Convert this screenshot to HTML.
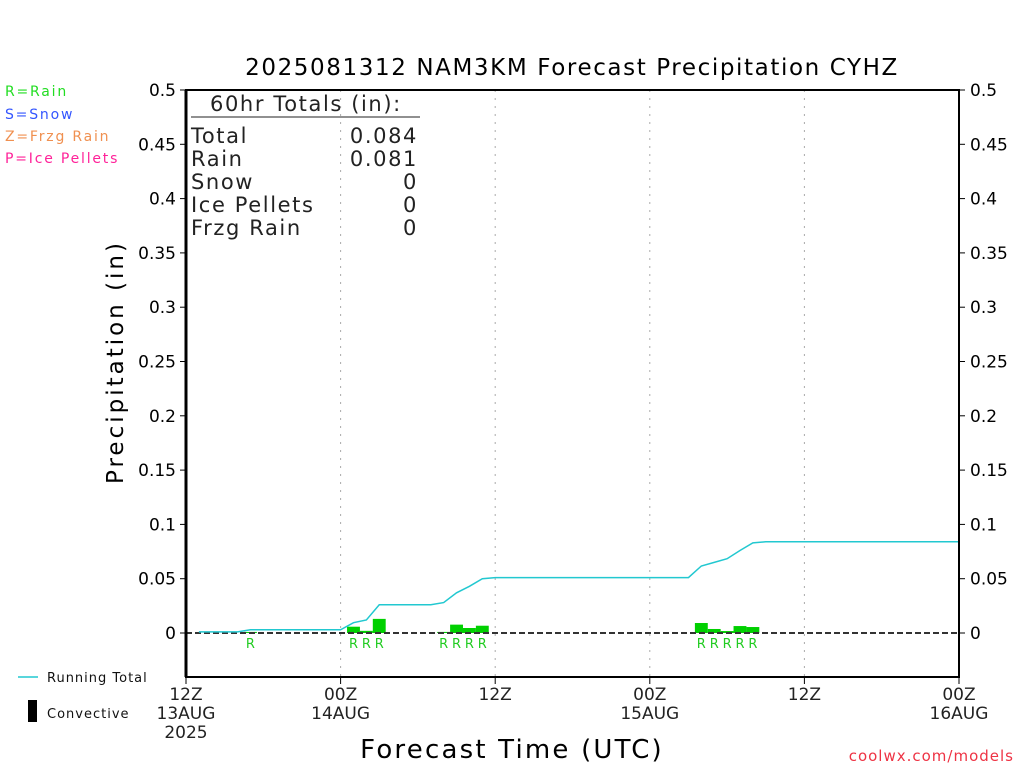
<!DOCTYPE html>
<html><head><meta charset="utf-8"><style>
body{margin:0;background:#fff}
svg text{font-family:"DejaVu Sans","Liberation Sans",sans-serif}
</style></head><body>
<svg id="c" width="1024" height="768" xmlns="http://www.w3.org/2000/svg">
<rect width="1024" height="768" fill="#fff"/>
<text x="572" y="75" font-size="23" letter-spacing="1.6" text-anchor="middle" fill="#000">2025081312 NAM3KM Forecast Precipitation CYHZ</text>
<g font-size="14" letter-spacing="1.8">
<text x="5" y="96" fill="#22dd22">R=Rain</text>
<text x="5" y="119" fill="#3355ff">S=Snow</text>
<text x="5" y="141" fill="#f09050">Z=Frzg Rain</text>
<text x="5" y="163" fill="#ff2299">P=Ice Pellets</text>
</g>
<g id="grid"></g>
<g id="ticks" font-size="17"></g>
<g id="marks"></g>
<rect x="186" y="90" width="773" height="587" fill="none" stroke="#000" stroke-width="2"/>
<line x1="186" y1="90" x2="186" y2="677" stroke="#000" stroke-width="3"/>
<g font-size="21" fill="#222" letter-spacing="1.6">
<text x="210" y="111">60hr Totals (in):</text>
<line x1="191" y1="117" x2="420" y2="117" stroke="#222" stroke-width="1"/>
<text x="191" y="143">Total</text><text x="418" y="143" text-anchor="end">0.084</text>
<text x="191" y="166">Rain</text><text x="418" y="166" text-anchor="end">0.081</text>
<text x="191" y="189">Snow</text><text x="418" y="189" text-anchor="end">0</text>
<text x="191" y="212">Ice Pellets</text><text x="418" y="212" text-anchor="end">0</text>
<text x="191" y="235">Frzg Rain</text><text x="418" y="235" text-anchor="end">0</text>
</g>
<text transform="translate(123,362) rotate(-90)" font-size="23" letter-spacing="3" text-anchor="middle">Precipitation (in)</text>
<text x="512" y="758" font-size="26" letter-spacing="2.2" text-anchor="middle">Forecast Time (UTC)</text>
<g font-size="13" fill="#111" letter-spacing="1">
<line x1="18" y1="677" x2="38" y2="677" stroke="#22c8d0" stroke-width="1.5"/>
<text x="47" y="682">Running Total</text>
<rect x="28" y="700" width="9" height="22" fill="#000"/>
<text x="47" y="718">Convective</text>
</g>
<text x="1014" y="761" font-size="15" letter-spacing="1" text-anchor="end" fill="#ee3344">coolwx.com/models</text>
</svg>
<script>
const hours=[5,13,14,15,20,21,22,23,40,41,42,43,44];
const rainVals=[0.001,0.0058,0.002,0.013,0.001,0.0077,0.0046,0.0067,0.0092,0.0037,0.0018,0.0064,0.0055];
const totalHours=[1,4,5,12,13,14,15,19,20,21,22,23,24,39,40,41,42,43,44,45,60];
const totalVals=[0.001,0.001,0.003,0.003,0.0095,0.012,0.026,0.026,0.028,0.037,0.043,0.050,0.051,0.051,0.0617,0.065,0.0684,0.076,0.083,0.084,0.084];
const yTicks=[0,0.05,0.1,0.15,0.2,0.25,0.3,0.35,0.4,0.45,0.5];
const xTickHours=[0,12,24,36,48,60];
const xTickLabels=[["12Z","13AUG","2025"],["00Z","14AUG"],["12Z"],["00Z","15AUG"],["12Z"],["00Z","16AUG"]];
const NS="http://www.w3.org/2000/svg";
const X=h=>186+h*(773/60);
const Y=v=>633-v*1086;
function mk(t,a,p){const e=document.createElementNS(NS,t);for(const k in a)e.setAttribute(k,a[k]);p.appendChild(e);return e;}
const grid=document.getElementById('grid'),ticks=document.getElementById('ticks'),marks=document.getElementById('marks');
xTickHours.forEach((h,i)=>{
 if(h>0&&h<60){const g=mk('line',{x1:X(h),y1:90,x2:X(h),y2:677,stroke:'#aaa','stroke-dasharray':'2,6'},grid);
 
 }
 mk('line',{x1:X(h),y1:677,x2:X(h),y2:684,stroke:'#000'},ticks);
 xTickLabels[i].forEach((s,j)=>{const t=mk('text',{x:X(h),y:700+j*19,'text-anchor':'middle','font-size':17,fill:'#222'},ticks);t.textContent=s;
 
 });
});
yTicks.forEach(v=>{
 mk('line',{x1:180,y1:Y(v),x2:186,y2:Y(v),stroke:'#000'},ticks);
 mk('line',{x1:959,y1:Y(v),x2:965,y2:Y(v),stroke:'#000'},ticks);
 const l=mk('text',{x:176,y:Y(v)+6,'text-anchor':'end'},ticks);l.textContent=String(v);
 
 
 const r=mk('text',{x:970,y:Y(v)+6},ticks);r.textContent=String(v);
 
 
});
hours.forEach((h,i)=>{
 const b=mk('rect',{x:X(h-0.5),y:Y(rainVals[i]),width:773/60,height:Y(0)-Y(rainVals[i]),fill:'#00d000'},marks);
 
 
 const t=mk('text',{x:X(h),y:648,'text-anchor':'middle','font-size':13,fill:'#22cc22'},marks);t.textContent='R';
 
 
});
const z=mk('line',{x1:186,y1:Y(0),x2:959,y2:Y(0),stroke:'#333','stroke-width':2,'stroke-dasharray':'6,3'},marks);


const pl=mk('polyline',{points:totalHours.map((h,i)=>X(h)+','+Y(totalVals[i])).join(' '),fill:'none',stroke:'#22c8d0','stroke-width':1.5},marks);


</script>
</body></html>
